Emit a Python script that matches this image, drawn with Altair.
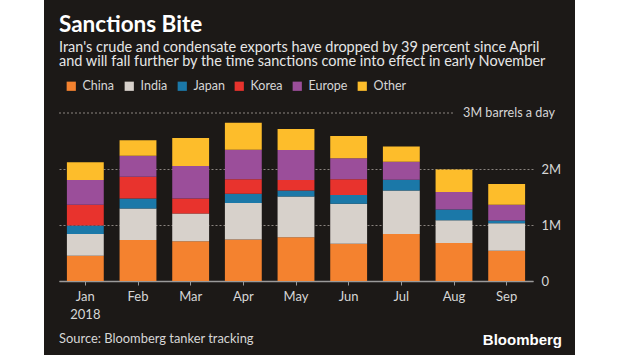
import altair as alt
import pandas as pd

months = ["Jan", "Feb", "Mar", "Apr", "May", "Jun", "Jul", "Aug", "Sep"]
regions = ["China", "India", "Japan", "Korea", "Europe", "Other"]
# million barrels a day
china = [0.45, 0.73, 0.71, 0.74, 0.78, 0.665, 0.84, 0.68, 0.54]
india = [0.39, 0.565, 0.495, 0.655, 0.73, 0.715, 0.775, 0.405, 0.49]
japan = [0.15, 0.18, 0.0, 0.165, 0.105, 0.155, 0.195, 0.19, 0.05]
korea = [0.37, 0.385, 0.27, 0.255, 0.19, 0.28, 0.0, 0.0, 0.0]
europe = [0.445, 0.375, 0.58, 0.53, 0.535, 0.375, 0.32, 0.315, 0.28]
other = [0.315, 0.28, 0.50, 0.48, 0.375, 0.40, 0.27, 0.40, 0.37]
colors = ["#f4822f", "#d7d1cb", "#1b78a8", "#e8332d", "#9b4e9a", "#fdbd2b"]

title_text = "Sanctions Bite"
subtitle_lines = ["Iran's crude and condensate exports have dropped by 39 percent since April",
                  "and will fall further by the time sanctions come into effect in early November"]

series = [china, india, japan, korea, europe, other]
rows = []
for ri, (reg, vals) in enumerate(zip(regions, series)):
    for m, v in zip(months, vals):
        rows.append({"month": m, "region": reg, "idx": ri, "value": v})
df = pd.DataFrame(rows)

BG = "#1c1917"
TXT = "#d6d6d6"
FONT = "Lato"
W, H = 474, 168

bars = alt.Chart(df).mark_bar(strokeWidth=0).encode(
    x=alt.X("month:N", sort=months, title=None,
            scale=alt.Scale(paddingInner=0.3, paddingOuter=0.15),
            axis=alt.Axis(labelAngle=0, domain=True, domainColor="#9a9a9a", domainWidth=1.5,
                          ticks=True, tickColor="#9a9a9a", tickSize=4, tickWidth=1,
                          labelColor=TXT, labelFont=FONT, labelFontSize=13, labelPadding=5,
                          labelLineHeight=18, grid=False,
                          labelExpr="datum.value == 'Jan' ? ['Jan', '2018'] : datum.value")),
    y=alt.Y("value:Q", stack="zero", title=None,
            scale=alt.Scale(domain=[0, 3], nice=False),
            axis=alt.Axis(orient="right", values=[0, 1, 2], domain=False, ticks=False,
                          grid=True, gridColor="#8a8580", gridDash=[2, 2], gridWidth=1,
                          labelColor=TXT, labelFont=FONT, labelFontSize=13, labelPadding=8,
                          labelExpr="datum.value == 0 ? '0' : datum.value + 'M'")),
    color=alt.Color("region:N", sort=regions,
                    scale=alt.Scale(domain=regions, range=colors),
                    legend=alt.Legend(orient="none", legendX=6, legendY=-33, direction="horizontal",
                                      columns=6, gridAlign="none", title=None,
                                      symbolType="square", symbolSize=85,
                                      symbolStrokeWidth=0, symbolOpacity=1, labelColor=TXT,
                                      labelFont=FONT, labelFontSize=12.5, columnPadding=8,
                                      labelOffset=5, padding=0)),
    order=alt.Order("idx:Q", sort="ascending"),
)

one = alt.Data(values=[{}])

rule3 = alt.Chart(one).mark_rule(color="#8a8580", strokeDash=[2, 2], strokeWidth=1).encode(
    y=alt.Y(datum=3), x=alt.value(0), x2=alt.value(394)
)
label3 = alt.Chart(one).mark_text(align="right", baseline="middle", color=TXT, font=FONT,
                                  fontSize=12.6).encode(
    y=alt.Y(datum=3), x=alt.value(496), text=alt.value("3M barrels a day")
)
title = alt.Chart(one).mark_text(align="left", baseline="alphabetic", color="white",
                                 font=FONT, fontWeight="bold", fontSize=22.5).encode(
    x=alt.value(0), y=alt.value(-81), text=alt.value(title_text)
)
sub1 = alt.Chart(one).mark_text(align="left", baseline="alphabetic", color="#e6e6e6",
                                font=FONT, fontSize=14.5).encode(
    x=alt.value(0), y=alt.value(-61), text=alt.value(subtitle_lines[0])
)
sub2 = alt.Chart(one).mark_text(align="left", baseline="alphabetic", color="#e6e6e6",
                                font=FONT, fontSize=14.5).encode(
    x=alt.value(0), y=alt.value(-47), text=alt.value(subtitle_lines[1])
)
source = alt.Chart(one).mark_text(align="left", baseline="alphabetic", color=TXT, font=FONT,
                                  fontSize=12.9).encode(
    x=alt.value(0), y=alt.value(230), text=alt.value("Source: Bloomberg tanker tracking")
)
brand = alt.Chart(one).mark_text(align="right", baseline="alphabetic", color="white",
                                 font="Liberation Sans", fontWeight="bold", fontSize=15).encode(
    x=alt.value(503), y=alt.value(232), text=alt.value("Bloomberg")
)
left_strip = alt.Chart(one).mark_rect(color="white").encode(
    x=alt.value(-59), x2=alt.value(-15), y=alt.value(-113), y2=alt.value(242)
)
right_strip = alt.Chart(one).mark_rect(color="white").encode(
    x=alt.value(516), x2=alt.value(561), y=alt.value(-113), y2=alt.value(242)
)

chart = alt.layer(rule3, bars, label3, title, sub1, sub2, source, brand,
                  left_strip, right_strip).properties(
    width=W, height=H,
    padding={"left": 59, "top": 113, "right": 87, "bottom": 74},
    autosize=alt.AutoSizeParams(type="none"),
    background=BG,
).configure_view(strokeWidth=0)

chart.save("out.html", embed_options={"renderer": "svg", "actions": False})
